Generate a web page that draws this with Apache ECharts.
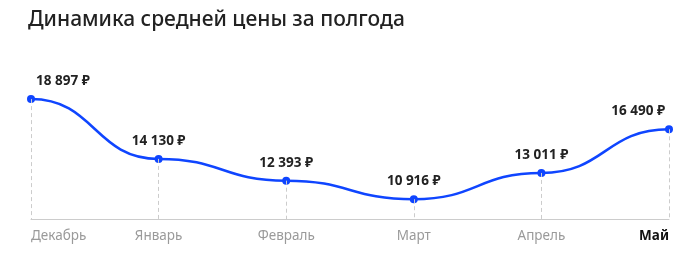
<!DOCTYPE html>
<html>
<head>
<meta charset="utf-8">
<script src="https://cdn.jsdelivr.net/npm/echarts@6/dist/echarts.min.js"></script>
<style>
html,body{margin:0;padding:0;background:#fff;}
#c{width:700px;height:259px;}
</style>
</head>
<body>
<div id="c"></div>
<script>
const titleText = 'Динамика средней цены за полгода';
const months = ['Декабрь', 'Январь', 'Февраль', 'Март', 'Апрель', 'Май'];
const prices = [18897, 14130, 12393, 10916, 13011, 16490];
const yMin = 9340;
const yMax = 20420;

function fmt(v) {
  return String(v).replace(/\B(?=(\d{3})+(?!\d))/g, ' ') + ' ₽';
}

const FONT = '"Noto Sans", "DejaVu Sans", sans-serif';
const last = prices.length - 1;
const BLUE = '#0f45ff';

// segments for the bump-shaped curve: [startIndex, startValue, endIndex, endValue]
const segments = [];
for (let i = 0; i < last; i++) {
  segments.push([i, prices[i], i + 1, prices[i + 1]]);
}

const chart = echarts.init(document.getElementById('c'), null, {renderer: 'canvas'});
chart.setOption({
  animation: false,
  backgroundColor: '#ffffff',
  title: {
    text: titleText,
    left: 23,
    top: 5,
    textStyle: {fontFamily: FONT, fontSize: 21, fontWeight: 500, color: '#222222'}
  },
  grid: {left: 31, right: 31, top: 80, bottom: 40},
  xAxis: {
    type: 'category',
    data: months,
    boundaryGap: false,
    axisLine: {lineStyle: {color: '#cccccc', width: 1}},
    axisTick: {show: false},
    splitLine: {show: false},
    axisLabel: {
      margin: 10,
      fontFamily: FONT,
      fontSize: 13.5,
      color: '#9a9a9a',
      alignMinLabel: 'left',
      alignMaxLabel: 'right',
      formatter: function (v, i) {
        return i === last ? '{b|' + v + '}' : (i === 0 ? '{f|' + v + '}' : v);
      },
      rich: {
        b: {fontFamily: FONT, fontSize: 13.5, fontWeight: 'bold', color: '#111111', padding: [0, 0, 0, 0]},
        f: {fontFamily: FONT, fontSize: 13.5, color: '#9a9a9a', padding: [0, 3, 0, 0]}
      }
    }
  },
  yAxis: {type: 'value', min: yMin, max: yMax, show: false, splitLine: {show: false}},
  series: [{
    type: 'custom',
    data: segments,
    z: 2,
    silent: true,
    renderItem: function (params, api) {
      const p0 = api.coord([api.value(0), api.value(1)]);
      const p1 = api.coord([api.value(2), api.value(3)]);
      const mx = (p0[0] + p1[0]) / 2;
      return {
        type: 'bezierCurve',
        shape: {x1: p0[0], y1: p0[1], x2: p1[0], y2: p1[1], cpx1: mx, cpy1: p0[1], cpx2: mx, cpy2: p1[1]},
        style: {stroke: BLUE, lineWidth: 2.5, fill: null}
      };
    }
  }, {
    type: 'line',
    symbol: 'circle',
    symbolSize: 8,
    showAllSymbol: true,
    lineStyle: {width: 0, opacity: 0},
    itemStyle: {color: BLUE},
    data: prices.map(function (v, i) {
      return {
        value: v,
        label: {
          align: i === 0 ? 'left' : (i === last ? 'right' : 'center'),
          offset: i === 0 ? [5, 0] : (i === last ? [-4, 0] : [0, 0])
        }
      };
    }),
    label: {
      show: true,
      position: 'top',
      distance: 7,
      fontFamily: FONT,
      fontSize: 13.5,
      fontWeight: 'bold',
      color: '#222222',
      formatter: function (p) { return fmt(p.value); }
    },
    markLine: {
      silent: true,
      symbol: 'none',
      label: {show: false},
      lineStyle: {color: '#cccccc', width: 1, type: [4, 3]},
      data: prices.map(function (v, i) {
        return [{coord: [i, v]}, {coord: [i, yMin]}];
      })
    },
    z: 3
  }]
});
</script>
</body>
</html>
